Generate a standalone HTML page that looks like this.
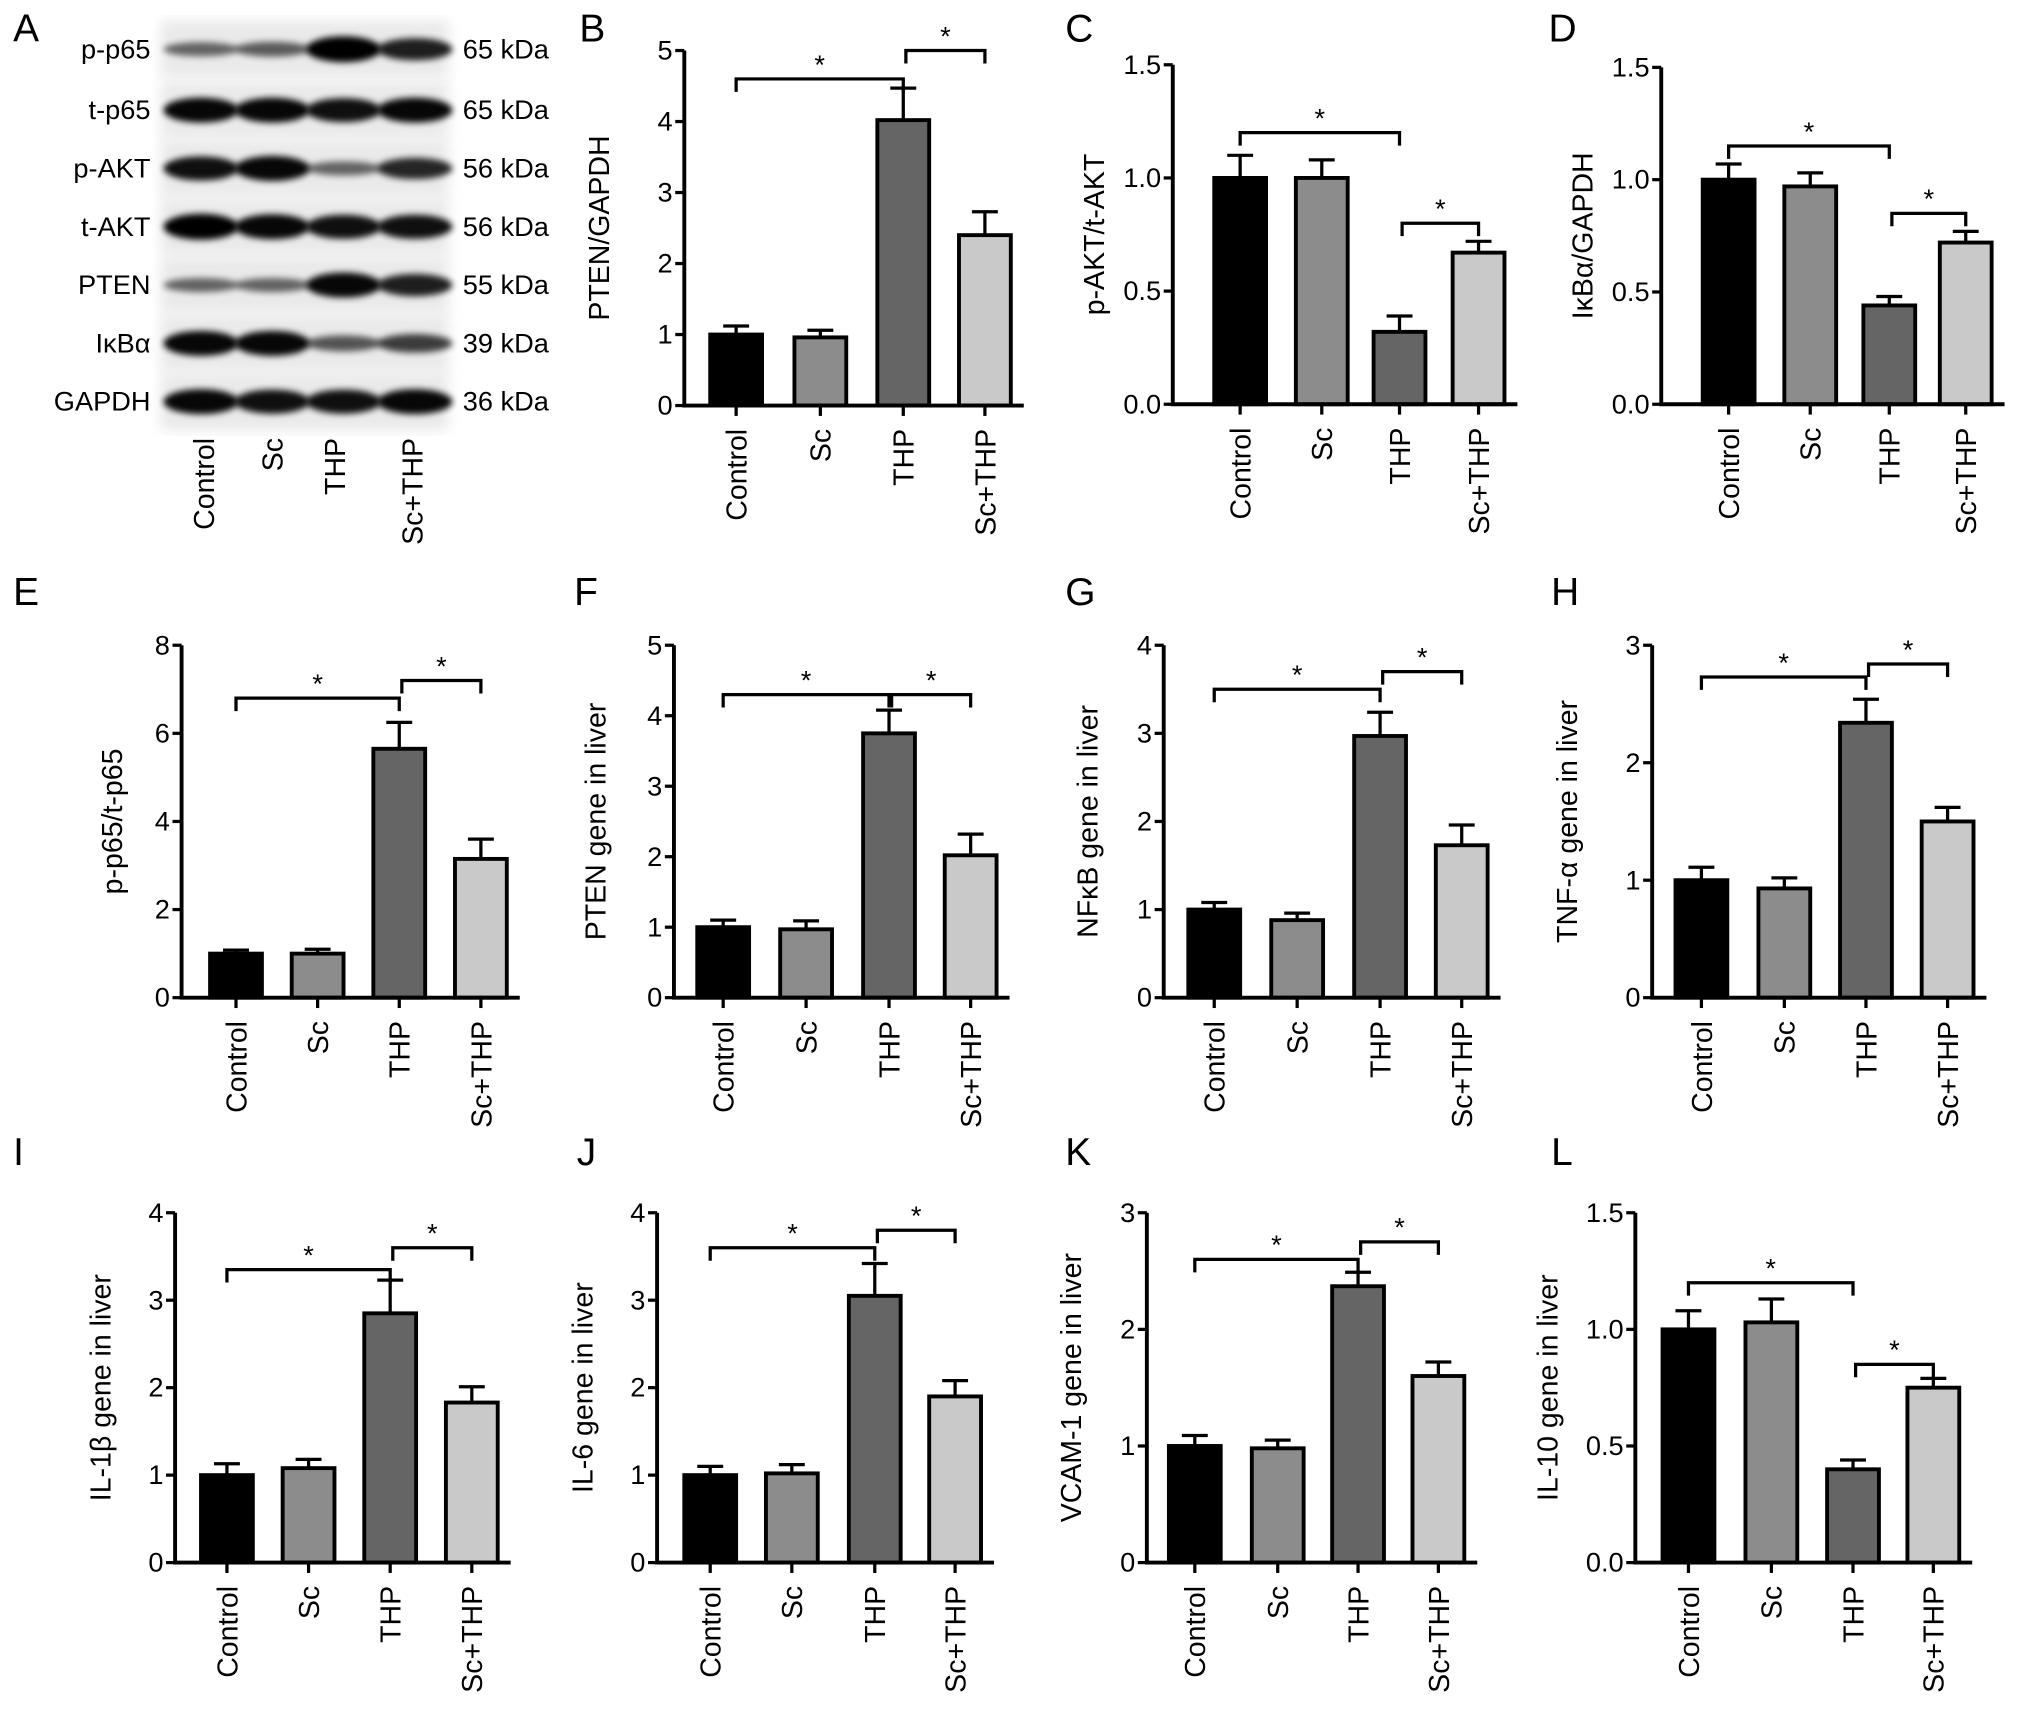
<!DOCTYPE html>
<html><head><meta charset="utf-8"><style>
html,body{margin:0;padding:0;background:#fff;}
svg{display:block;font-family:"Liberation Sans",Arial,sans-serif;}
</style></head><body>
<svg id="fig" width="2032" height="1709" viewBox="0 0 1568 1319" xmlns="http://www.w3.org/2000/svg">
<defs><filter id="blur" x="-30%" y="-100%" width="160%" height="300%"><feGaussianBlur stdDeviation="2.5"/></filter>
<filter id="blur2"><feGaussianBlur stdDeviation="5"/></filter></defs>
</svg>
<script>
const categories = ["Control","Sc","THP","Sc+THP"];
const bValues=[1.0,0.96,4.02,2.4], bErrors=[0.12,0.1,0.45,0.33];
const cValues=[1.0,1.0,0.32,0.67], cErrors=[0.1,0.08,0.07,0.05];
const dValues=[1.0,0.97,0.44,0.72], dErrors=[0.07,0.06,0.04,0.05];
const eValues=[1.0,1.0,5.65,3.15], eErrors=[0.08,0.1,0.6,0.45];
const fValues=[1.0,0.97,3.75,2.02], fErrors=[0.1,0.12,0.33,0.3];
const gValues=[1.0,0.88,2.97,1.73], gErrors=[0.08,0.08,0.27,0.23];
const hValues=[1.0,0.93,2.34,1.5], hErrors=[0.11,0.09,0.2,0.12];
const iValues=[1.0,1.08,2.85,1.83], iErrors=[0.13,0.1,0.38,0.18];
const jValues=[1.0,1.02,3.05,1.9], jErrors=[0.1,0.1,0.37,0.18];
const kValues=[1.0,0.98,2.37,1.6], kErrors=[0.09,0.07,0.12,0.12];
const lValues=[1.0,1.03,0.4,0.75], lErrors=[0.08,0.1,0.04,0.04];
const bTicks=["0","1","2","3","4","5"], cTicks=["0.0","0.5","1.0","1.5"], eTicks=["0","2","4","6","8"];
const gTicks=["0","1","2","3","4"], hTicks=["0","1","2","3"];
const blotProteins=["p-p65","t-p65","p-AKT","t-AKT","PTEN","IκBα","GAPDH"];
const blotSizes=["65 kDa","65 kDa","56 kDa","56 kDa","55 kDa","39 kDa","36 kDa"];
const blotIntensity=[[0.35,0.4,1,0.8],[0.95,0.95,0.9,0.95],[0.9,0.95,0.35,0.75],[1,0.95,0.9,0.9],[0.35,0.35,0.95,0.8],[0.95,0.95,0.45,0.6],[0.95,0.9,0.9,0.95]];

const NS="http://www.w3.org/2000/svg";
const svg=document.getElementById('fig');
function mk(tag,attrs,parent,txt){const e=document.createElementNS(NS,tag);for(const k in attrs)e.setAttribute(k,attrs[k]);if(txt!==undefined)e.textContent=txt;(parent||svg).appendChild(e);return e;}
const fills=["#000000","#8c8c8c","#656565","#c9c9c9"];

const panels=[
 {id:'b',L:'B',lx:447,ly:32,ax:528,y0:313,ytop:39,max:5,ticks:bTicks,tv:[0,1,2,3,4,5],xs:[568,633,697,760],vals:bValues,errs:bErrors,label:'PTEN/GAPDH',ylx:463,br:[4.6,5.0]},
 {id:'c',L:'C',lx:822,ly:32,ax:905,y0:312,ytop:50,max:1.5,ticks:cTicks,tv:[0,0.5,1,1.5],xs:[957,1020,1080,1141],vals:cValues,errs:cErrors,label:'p-AKT/t-AKT',ylx:845,br:[1.2,0.8]},
 {id:'d',L:'D',lx:1195,ly:32,ax:1282,y0:312,ytop:52,max:1.5,ticks:cTicks,tv:[0,0.5,1,1.5],xs:[1334,1397,1458,1517],vals:dValues,errs:dErrors,label:'IκBα/GAPDH',ylx:1222,br:[1.15,0.85]},
 {id:'e',L:'E',lx:10,ly:467,ax:140,y0:770,ytop:498,max:8,ticks:eTicks,tv:[0,2,4,6,8],xs:[182,245,308,371],vals:eValues,errs:eErrors,label:'p-p65/t-p65',ylx:87,br:[6.8,7.2]},
 {id:'f',L:'F',lx:443,ly:467,ax:520,y0:770,ytop:498,max:5,ticks:bTicks,tv:[0,1,2,3,4,5],xs:[558,622,686,749],vals:fValues,errs:fErrors,label:'PTEN gene in liver',ylx:460,br:[4.3,4.3]},
 {id:'g',L:'G',lx:822,ly:467,ax:898,y0:770,ytop:498,max:4,ticks:gTicks,tv:[0,1,2,3,4],xs:[937,1001,1065,1128],vals:gValues,errs:gErrors,label:'NFκB gene in liver',ylx:840,br:[3.5,3.7]},
 {id:'h',L:'H',lx:1197,ly:467,ax:1275,y0:770,ytop:498,max:3,ticks:hTicks,tv:[0,1,2,3],xs:[1313,1377,1440,1503],vals:hValues,errs:hErrors,label:'TNF-α gene in liver',ylx:1210,br:[2.73,2.84]},
 {id:'i',L:'I',lx:10,ly:899,ax:135,y0:1206,ytop:936,max:4,ticks:gTicks,tv:[0,1,2,3,4],xs:[175,238,301,364],vals:iValues,errs:iErrors,label:'IL-1β gene in liver',ylx:78,br:[3.35,3.6]},
 {id:'j',L:'J',lx:445,ly:899,ax:507,y0:1206,ytop:936,max:4,ticks:gTicks,tv:[0,1,2,3,4],xs:[548,611,675,737],vals:jValues,errs:jErrors,label:'IL-6 gene in liver',ylx:450,br:[3.6,3.8]},
 {id:'k',L:'K',lx:822,ly:899,ax:885,y0:1206,ytop:936,max:3,ticks:hTicks,tv:[0,1,2,3],xs:[922,986,1048,1110],vals:kValues,errs:kErrors,label:'VCAM-1 gene in liver',ylx:827,br:[2.6,2.75]},
 {id:'l',L:'L',lx:1197,ly:899,ax:1262,y0:1206,ytop:936,max:1.5,ticks:cTicks,tv:[0,0.5,1,1.5],xs:[1303,1367,1430,1492],vals:lValues,errs:lErrors,label:'IL-10 gene in liver',ylx:1195,br:[1.2,0.85]}
];

panels.forEach(p=>{
 const g=mk('g',{});
 
 
 const y=v=>p.y0-(v/p.max)*(p.y0-p.ytop);
 const t=mk('text',{x:p.lx,y:p.ly,'font-size':30},g,p.L);
 
 
 const bw=40;
 p.vals.forEach((v,i)=>{
  const x=p.xs[i];
  const r=mk('rect',{x:x-bw/2,y:y(v),width:bw,height:p.y0-y(v),fill:fills[i],stroke:'#000','stroke-width':3},g);
  
  
  const e=mk('path',{d:`M${x} ${y(v)} V${y(v+p.errs[i])} M${x-10} ${y(v+p.errs[i])} H${x+10}`,stroke:'#000','stroke-width':2.5,fill:'none'},g);
  
  
  const lb=mk('text',{x:0,y:0,'font-size':22,'text-anchor':'end',transform:`translate(${x+8},${p.y0+18}) rotate(-90)`},g,categories[i]);
  
  
  mk('line',{x1:x,y1:p.y0,x2:x,y2:p.y0+8,stroke:'#000','stroke-width':2.5},g);
 });
 const ax=mk('path',{d:`M${p.ax} ${p.ytop} V${p.y0} H${p.xs[3]+30}`,stroke:'#000','stroke-width':3,fill:'none'},g);
 
 
 p.tv.forEach((v,i)=>{
  mk('line',{x1:p.ax-7,y1:y(v),x2:p.ax,y2:y(v),stroke:'#000','stroke-width':2.5},g);
  const tl=mk('text',{x:p.ax-9,y:y(v)+7,'font-size':21,'text-anchor':'end'},g,p.ticks[i]);
  
  
 });
 const yl=mk('text',{x:0,y:0,'font-size':22,'text-anchor':'middle',transform:`translate(${p.ylx+7},${(p.y0+p.ytop)/2}) rotate(-90)`},g,p.label);
 
 
 [[0,2,p.br[0]],[2,3,p.br[1]]].forEach(([a,b,v])=>{
  const yy=y(v);
  const x1=p.xs[a]+(a===2?2:0), x2=p.xs[b];
  const br=mk('path',{d:`M${x1} ${yy+10} V${yy} H${x2} V${yy+10}`,stroke:'#000','stroke-width':2.5,fill:'none'},g);
  
  
  const st=mk('text',{x:(x1+x2)/2,y:yy-4,'font-size':21,'text-anchor':'middle'},g,'*');
  
  
 });
});

(function(){
 const g=mk('g',{});
 
 
 const la=mk('text',{x:10,y:32,'font-size':30},g,'A');
 
 
 const lanes=[155,210,265,320], rows=[38,85,130,175,220,265,310];
 rows.forEach(ry=>mk('rect',{x:124,y:ry-22,width:222,height:44,fill:'#e9e9e9',filter:'url(#blur2)'},g));
 rows.forEach((ry,r)=>{
  const pl=mk('text',{x:116,y:ry+7,'font-size':21,'text-anchor':'end'},g,blotProteins[r]);
  
  
  const kl=mk('text',{x:357,y:ry+7,'font-size':21},g,blotSizes[r]);
  
  
  lanes.forEach((lx,i)=>{
   const v=blotIntensity[r][i];
   const b=mk('ellipse',{cx:lx,cy:ry,rx:29,ry:3+7*v,fill:'#000',opacity:0.35+0.65*v,filter:'url(#blur)'},g);
   
   
  });
 });
 [157,210,258,318].forEach((lx,i)=>{
  const t=mk('text',{x:0,y:0,'font-size':22,'text-anchor':'end',transform:`translate(${lx+8},${338}) rotate(-90)`},g,categories[i]);
  
  
 });
})();
</script>
</body></html>
